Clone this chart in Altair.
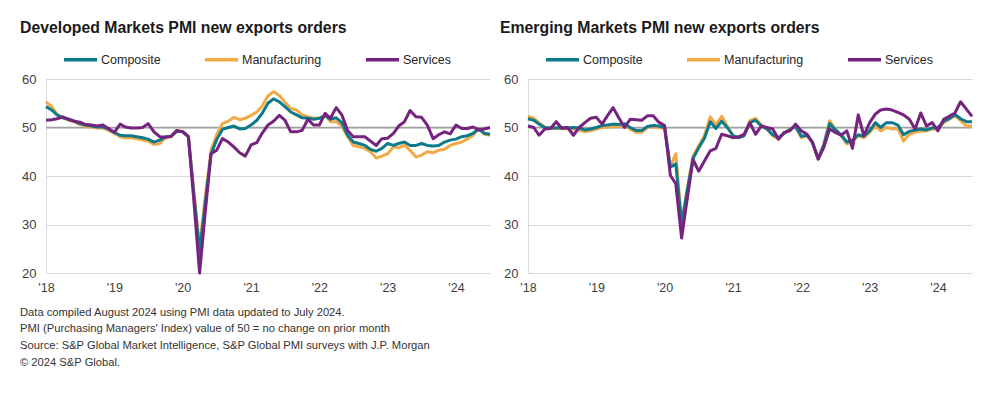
import altair as alt
import pandas as pd

# ---------------- data ----------------
months = pd.date_range("2018-01-01", "2024-07-01", freq="MS")
series_names = ["Composite", "Manufacturing", "Services"]
series_colors = ["#0d7a8a", "#f2a946", "#76237f"]
year_ticks = [2018, 2019, 2020, 2021, 2022, 2023, 2024]
y_ticks = [20, 30, 40, 50, 60]
ref_level = [50]

dm_composite = [
    54.3, 53.6, 52.6, 52.0, 51.7, 51.3, 50.8, 50.5, 50.3, 50.1, 50.1, 49.7,
    49.0, 48.4, 48.3, 48.3, 48.1, 47.9, 47.6, 47.0, 47.4, 48.1, 48.2, 49.2,
    49.2, 48.1, 36.3, 24.3, 34.5, 44.5, 47.5, 49.6, 50.0, 50.3, 49.7, 49.8,
    50.5, 51.5, 52.9, 55.0, 55.9, 55.3, 54.3, 53.2, 52.6, 52.0, 51.9, 51.7,
    51.9, 52.4, 51.7, 52.0, 51.0, 48.4, 47.0, 46.7, 46.3, 45.5, 45.1, 45.7,
    46.7, 46.3, 46.7, 47.0, 46.3, 46.3, 46.7, 46.3, 46.2, 46.3, 47.0, 47.4,
    47.6, 48.1, 48.3, 48.8, 49.7, 48.8, 48.6,
]
dm_manufacturing = [
    55.3, 54.3, 52.7, 52.0, 51.5, 51.2, 50.6, 50.3, 50.1, 49.9, 49.9, 49.4,
    48.8, 48.1, 47.9, 47.9, 47.7, 47.4, 47.2, 46.5, 46.7, 47.9, 48.1, 49.4,
    49.2, 48.1, 37.0, 25.5, 35.5, 45.3, 48.5, 50.8, 51.3, 52.1, 51.6, 51.9,
    52.5, 53.2, 54.4, 56.5, 57.4, 56.6, 55.2, 53.9, 53.6, 52.6, 52.2, 51.9,
    51.9, 52.6, 51.2, 51.2, 50.3, 48.1, 46.3, 46.0, 45.7, 45.0, 43.7, 44.1,
    44.6, 46.0, 45.8, 46.3, 45.3, 43.9, 44.3, 45.0, 44.8, 45.3, 45.5, 46.3,
    46.7, 47.0, 47.6, 48.4, 49.8, 48.6, 48.4,
]
dm_services = [
    51.5, 51.6, 51.8, 52.2, 51.7, 51.3, 51.1, 50.6, 50.5, 50.3, 50.5, 49.8,
    49.0, 50.7, 50.1, 49.9, 49.9, 50.0, 50.8, 49.1, 48.1, 48.0, 48.2, 49.4,
    49.1, 48.1, 35.0, 20.0, 32.5, 44.6, 45.3, 47.7, 47.0, 46.0, 44.8, 44.1,
    46.4, 46.9, 48.8, 50.5, 51.3, 52.5, 51.5, 49.1, 49.1, 49.4, 51.7, 50.5,
    50.5, 52.9, 51.9, 54.1, 52.6, 49.4, 48.1, 48.1, 48.1, 47.2, 46.3, 47.7,
    47.8, 48.8, 50.3, 51.2, 53.5, 52.2, 52.1, 50.5, 47.7, 48.5, 49.1, 48.7,
    50.5, 49.8, 49.8, 50.1, 49.5, 49.7, 50.0,
]

em_composite = [
    51.8, 51.5, 50.7, 50.0, 49.9, 49.9, 50.0, 49.9, 50.0, 49.9, 49.5, 49.7,
    50.0, 50.4, 50.5, 50.7, 50.6, 50.8, 50.0, 49.4, 49.4, 50.2, 50.4, 50.3,
    50.0, 41.8, 42.5, 30.0, 37.0, 43.6, 45.8, 47.8, 51.2, 49.8, 51.3, 50.0,
    48.3, 47.9, 48.3, 51.0, 51.5, 50.3, 49.7, 48.5, 47.9, 48.8, 49.6, 50.2,
    48.2, 48.4, 47.0, 43.5, 46.4, 50.8, 49.6, 48.5, 47.0, 47.4, 48.5, 48.2,
    49.3, 51.0, 50.0, 51.0, 51.0, 50.5, 48.5, 49.2, 49.5, 49.7, 49.5, 49.9,
    50.0, 51.3, 51.8, 52.7, 51.8, 51.2, 51.2,
]
em_manufacturing = [
    52.3, 51.9, 51.0, 50.0, 49.8, 49.8, 49.8, 49.7, 49.7, 49.5, 49.1, 49.3,
    49.7, 50.0, 50.0, 50.3, 50.2, 50.5, 49.7, 49.0, 49.0, 50.0, 50.2, 50.0,
    49.8, 41.9, 44.6, 30.5, 37.3, 44.1, 46.2, 48.3, 52.2, 50.6, 52.3, 50.3,
    48.3, 47.9, 48.4, 51.4, 51.9, 50.5, 49.7, 48.3, 47.6, 48.8, 49.7, 50.2,
    47.9, 48.3, 46.9, 43.5, 46.6, 51.4, 49.7, 48.3, 46.6, 47.2, 48.3, 47.9,
    49.0, 50.3, 49.3, 50.0, 49.7, 49.8, 47.2, 48.6, 49.0, 49.3, 49.3, 49.7,
    49.7, 51.0, 51.7, 52.4, 51.4, 50.3, 50.3,
]
em_services = [
    50.3, 50.0, 48.4, 49.7, 49.8, 51.2, 49.8, 50.0, 48.4, 50.0, 51.0, 51.9,
    52.1, 50.7, 52.4, 54.1, 52.0, 50.0, 51.7, 51.6, 51.5, 52.4, 52.4, 51.1,
    50.4, 40.1, 38.4, 27.2, 35.3, 43.4, 41.0, 43.1, 45.2, 45.7, 48.6, 48.3,
    47.9, 48.1, 48.6, 51.0, 48.6, 50.3, 50.0, 49.7, 47.6, 49.0, 49.3, 50.7,
    49.3, 48.6, 46.9, 43.5, 45.9, 49.7, 49.0, 48.4, 49.3, 45.7, 52.6, 48.3,
    51.0, 52.8, 53.6, 53.8, 53.6, 53.1, 52.6, 51.7, 49.7, 53.0, 50.3, 51.0,
    49.3, 51.7, 52.3, 53.0, 55.3, 53.8, 52.3,
]

footnote_lines = [
    "Data compiled August 2024 using PMI data updated to July 2024.",
    "PMI (Purchasing Managers' Index) value of 50 = no change on prior month",
    "Source: S&P Global Market Intelligence, S&P Global PMI surveys with J.P. Morgan",
    "\u00a9 2024 S&P Global.",
]

FONT = "Liberation Sans"
TEXT_COLOR = "#404040"


def long_df(comp, manu, serv):
    rows = []
    for name, vals in zip(series_names, [comp, manu, serv]):
        for d, v in zip(months, vals):
            rows.append({"date": d.strftime("%Y-%m-%d"), "series": name, "value": v})
    return pd.DataFrame(rows)


def panel(df, title_text, title_dx):
    color_scale = alt.Scale(domain=series_names, range=series_colors)
    x_enc = alt.X(
        "date:T",
        title=None,
        scale=alt.Scale(
            domain=[alt.DateTime(year=2018, month=1, date=1),
                    alt.DateTime(year=2024, month=7, date=1)],
            nice=False,
        ),
        axis=alt.Axis(
            format="'%y",
            values=[alt.DateTime(year=y, month=1, date=1) for y in year_ticks],
            ticks=False, domain=False, grid=False,
            labelFontSize=12.5, labelColor=TEXT_COLOR, labelPadding=8,
            labelFont=FONT, labelFlush=False,
        ),
    )
    y_scale = alt.Scale(domain=[20, 60], nice=False, zero=False)
    y_axis = alt.Axis(
        values=y_ticks, ticks=False, grid=True, gridColor="#d9d9d9",
        domain=True, domainColor="#d9d9d9", labelFontSize=13,
        labelColor=TEXT_COLOR, labelPadding=10, labelFont=FONT,
    )
    ref = alt.Chart(pd.DataFrame({"level": ref_level})).mark_rule(
        color="#a0a0a0", strokeWidth=1.3
    ).encode(y=alt.Y("level:Q", scale=y_scale, axis=y_axis, title=None))

    base = alt.Chart(df)
    layers = []
    for s in ["Manufacturing", "Composite", "Services"]:
        layers.append(
            base.transform_filter(alt.datum.series == s)
            .mark_line(strokeWidth=3, strokeJoin="round")
            .encode(
                x=x_enc,
                y=alt.Y("value:Q", scale=y_scale, axis=y_axis, title=None),
                color=alt.Color(
                    "series:N",
                    scale=color_scale,
                    legend=alt.Legend(
                        title=None, orient="none", direction="horizontal",
                        legendX=16, legendY=-38,
                        symbolType="stroke", symbolSize=1089,
                        symbolStrokeWidth=3.5, labelOffset=2,
                        columnPadding=37, labelFontSize=12.5,
                        labelColor="#262626", labelFont=FONT,
                        values=series_names,
                    ),
                ),
            )
        )
    return alt.layer(ref, *layers).properties(
        width=444,
        height=194,
        title=alt.TitleParams(
            text=title_text, anchor="start", frame="group", dx=title_dx,
            fontSize=15.8, font=FONT, fontWeight="bold", color="#1a1a1a",
            offset=4,
        ),
    )


left = panel(long_df(dm_composite, dm_manufacturing, dm_services),
             "Developed Markets PMI new exports orders", -26)
right = panel(long_df(em_composite, em_manufacturing, em_services),
              "Emerging Markets PMI new exports orders", -28)

chart = (
    alt.hconcat(left, right, spacing=8)
    .resolve_scale(color="independent", x="independent", y="independent")
    .properties(
        padding={"left": 12, "top": 12, "right": 5, "bottom": 5},
        title=alt.TitleParams(
            text=footnote_lines, orient="bottom", anchor="start",
            fontSize=11.2, fontWeight="normal", font=FONT, color="#333333",
            lineHeight=16.7, offset=13,
        ),
    )
    .configure(font=FONT)
    .configure_view(stroke=None)
)

chart.save("out.html", embed_options={"renderer": "svg", "actions": False})
